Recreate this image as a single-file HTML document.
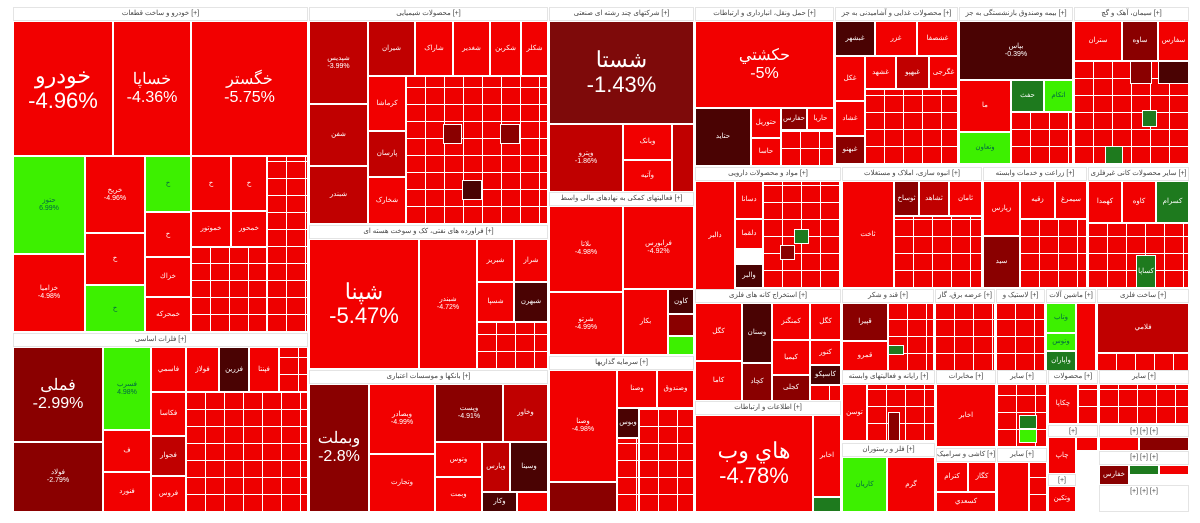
<!DOCTYPE html>
<html><head><meta charset="utf-8"><style>
body{margin:0;width:1200px;height:523px;background:#fff;position:relative;overflow:hidden;font-family:"Liberation Sans","Noto Sans CJK SC",sans-serif}
.t{position:absolute;box-sizing:border-box;border:1px solid #fff;color:#fff;display:flex;align-items:center;justify-content:center;text-align:center;font-size:7px;line-height:1.1;overflow:hidden;background:#f20000}
.h{position:absolute;box-sizing:border-box;background:#fff;color:#444;font-size:7px;text-align:center;border:1px solid #e4e4e4;line-height:11px;overflow:hidden;white-space:nowrap}
.g{position:absolute;box-sizing:border-box;border:1px solid #fff;background-color:#ee0000;
background-image:repeating-linear-gradient(90deg,transparent 0 18px,#fff 18px 19px),repeating-linear-gradient(0deg,transparent 0 16px,#fff 16px 17px)}
.d{background:#c00000}.k{background:#8a0000}.x{background:#4a0303}.gr{background:#3df000;color:#064}.dg{background:#1e7a1e}
.b{font-size:22px}.m{font-size:16px}
</style></head><body>
<!-- Group 1 -->
<div class="h" style="left:13px;top:7px;width:295px;height:14px">خودرو و ساخت قطعات [+]</div>
<div class="t b" style="left:13px;top:21px;width:100px;height:135px">خودرو<br>-4.96%</div>
<div class="t m" style="left:113px;top:21px;width:78px;height:135px">خساپا<br>-4.36%</div>
<div class="t m" style="left:191px;top:21px;width:117px;height:135px">خگستر<br>-5.75%</div>
<div class="t gr" style="left:13px;top:156px;width:72px;height:98px">حتوز<br>6.99%</div>
<div class="t" style="left:13px;top:254px;width:72px;height:78px">خزامیا<br>-4.98%</div>
<div class="t" style="left:85px;top:156px;width:60px;height:77px">خریخ<br>-4.96%</div>
<div class="t" style="left:85px;top:233px;width:60px;height:52px">خ</div>
<div class="t gr" style="left:85px;top:285px;width:60px;height:47px">خ</div>
<div class="t gr" style="left:145px;top:156px;width:46px;height:56px">خ</div>
<div class="t" style="left:145px;top:212px;width:46px;height:45px">خ</div>
<div class="t" style="left:145px;top:257px;width:46px;height:40px">خزاك</div>
<div class="t" style="left:145px;top:297px;width:46px;height:35px">خمحرکه</div>
<div class="t" style="left:191px;top:156px;width:40px;height:55px">خ</div>
<div class="t" style="left:231px;top:156px;width:36px;height:55px">خ</div>
<div class="t" style="left:191px;top:211px;width:40px;height:36px">خموتور</div>
<div class="t" style="left:231px;top:211px;width:36px;height:36px">خمحور</div>
<div class="g" style="left:267px;top:156px;width:41px;height:176px"></div>
<div class="g" style="left:191px;top:247px;width:76px;height:85px"></div>
<!-- Group 2 -->
<div class="h" style="left:13px;top:333px;width:295px;height:14px">فلزات اساسی [+]</div>
<div class="t m k" style="left:13px;top:347px;width:90px;height:95px">فملی<br>-2.99%</div>
<div class="t k" style="left:13px;top:442px;width:90px;height:70px">فولاد<br>-2.79%</div>
<div class="t gr" style="left:103px;top:347px;width:48px;height:83px">فسرب<br>4.98%</div>
<div class="t" style="left:103px;top:430px;width:48px;height:42px">ف</div>
<div class="t" style="left:103px;top:472px;width:48px;height:40px">فنورد</div>
<div class="t" style="left:151px;top:347px;width:35px;height:45px">فاسمي</div>
<div class="t" style="left:151px;top:392px;width:35px;height:44px">فكاسا</div>
<div class="t d" style="left:151px;top:436px;width:35px;height:40px">فجوار</div>
<div class="t" style="left:151px;top:476px;width:35px;height:36px">فروس</div>
<div class="t" style="left:186px;top:347px;width:33px;height:45px">فولاژ</div>
<div class="t x" style="left:219px;top:347px;width:30px;height:45px">فزرین</div>
<div class="t" style="left:249px;top:347px;width:30px;height:45px">فپنتا</div>
<div class="g" style="left:186px;top:392px;width:122px;height:120px"></div>
<div class="g" style="left:279px;top:347px;width:29px;height:45px"></div>
<!-- Group 3 -->
<div class="h" style="left:309px;top:7px;width:239px;height:14px">محصولات شیمیایی [+]</div>
<div class="t d" style="left:309px;top:21px;width:59px;height:83px">شپدیس<br>-3.99%</div>
<div class="t d" style="left:309px;top:104px;width:59px;height:62px">شفن</div>
<div class="t d" style="left:309px;top:166px;width:59px;height:58px">شبندر</div>
<div class="t d" style="left:368px;top:21px;width:47px;height:55px">شیران</div>
<div class="t" style="left:415px;top:21px;width:38px;height:55px">شاراک</div>
<div class="t" style="left:453px;top:21px;width:37px;height:55px">شغدير</div>
<div class="t" style="left:490px;top:21px;width:31px;height:55px">شکربن</div>
<div class="t" style="left:521px;top:21px;width:27px;height:55px">شکلر</div>
<div class="t" style="left:368px;top:76px;width:38px;height:55px">کرماشا</div>
<div class="t d" style="left:368px;top:131px;width:38px;height:46px">پارسان</div>
<div class="t" style="left:368px;top:177px;width:38px;height:47px">شخارک</div>
<div class="g" style="left:406px;top:76px;width:142px;height:148px"></div>
<div class="t k" style="left:443px;top:124px;width:19px;height:20px"></div>
<div class="t x" style="left:462px;top:180px;width:20px;height:20px"></div>
<div class="t k" style="left:500px;top:124px;width:20px;height:20px"></div>
<!-- Group 4 -->
<div class="h" style="left:309px;top:225px;width:239px;height:14px">فراورده های نفتی، کک و سوخت هسته ای [+]</div>
<div class="t b" style="left:309px;top:239px;width:110px;height:130px">شپنا<br>-5.47%</div>
<div class="t" style="left:419px;top:239px;width:58px;height:130px">شبندر<br>-4.72%</div>
<div class="t" style="left:477px;top:239px;width:37px;height:43px">شبريز</div>
<div class="t" style="left:514px;top:239px;width:34px;height:43px">شراز</div>
<div class="t" style="left:477px;top:282px;width:37px;height:40px">شسپا</div>
<div class="t x" style="left:514px;top:282px;width:34px;height:40px">شبهرن</div>
<div class="g" style="left:477px;top:322px;width:71px;height:47px"></div>
<!-- Group 5 -->
<div class="h" style="left:309px;top:370px;width:239px;height:14px">بانکها و موسسات اعتباری [+]</div>
<div class="t m k" style="left:309px;top:384px;width:60px;height:128px">وبملت<br>-2.8%</div>
<div class="t" style="left:369px;top:384px;width:66px;height:70px">وبصادر<br>-4.99%</div>
<div class="t" style="left:369px;top:454px;width:66px;height:58px">وتجارت</div>
<div class="t k" style="left:435px;top:384px;width:68px;height:58px">وپست<br>-4.91%</div>
<div class="t d" style="left:503px;top:384px;width:45px;height:58px">وخاور</div>
<div class="t" style="left:435px;top:442px;width:47px;height:35px">وتوس</div>
<div class="t" style="left:435px;top:477px;width:47px;height:35px">وبمت</div>
<div class="t d" style="left:482px;top:442px;width:28px;height:50px">وپارس</div>
<div class="t x" style="left:510px;top:442px;width:38px;height:50px">وسينا</div>
<div class="t x" style="left:482px;top:492px;width:35px;height:20px">وکار</div>
<div class="t" style="left:517px;top:492px;width:31px;height:20px"></div>
<!-- Group 6 -->
<div class="h" style="left:549px;top:7px;width:145px;height:14px">شرکتهای چند رشته ای صنعتی [+]</div>
<div class="t b" style="left:549px;top:21px;width:145px;height:103px;background:#7e0a0a">شستا<br>-1.43%</div>
<div class="t d" style="left:549px;top:124px;width:74px;height:68px">وپترو<br>-1.86%</div>
<div class="t" style="left:623px;top:124px;width:49px;height:36px">وبانک</div>
<div class="t" style="left:623px;top:160px;width:49px;height:32px">وآتيه</div>
<div class="t d" style="left:672px;top:124px;width:22px;height:68px"></div>
<div class="h" style="left:549px;top:192px;width:145px;height:14px">فعالیتهای کمکی به نهادهای مالی واسط [+]</div>
<div class="t" style="left:549px;top:206px;width:74px;height:86px">ىلاتا<br>-4.98%</div>
<div class="t" style="left:623px;top:206px;width:71px;height:83px">فرابورس<br>-4.92%</div>
<div class="t" style="left:549px;top:292px;width:74px;height:63px">شرتو<br>-4.99%</div>
<div class="t" style="left:623px;top:289px;width:45px;height:66px">بکار</div>
<div class="t x" style="left:668px;top:289px;width:26px;height:25px">کاون</div>
<div class="t k" style="left:668px;top:314px;width:26px;height:22px"></div>
<div class="t gr" style="left:668px;top:336px;width:26px;height:19px"></div>
<div class="h" style="left:549px;top:356px;width:145px;height:14px">سرمایه گذاریها [+]</div>
<div class="t" style="left:549px;top:370px;width:68px;height:112px">وصنا<br>-4.98%</div>
<div class="t k" style="left:549px;top:482px;width:68px;height:30px"></div>
<div class="t" style="left:617px;top:370px;width:40px;height:38px">وصنا</div>
<div class="t" style="left:657px;top:370px;width:37px;height:38px">وصندوق</div>
<div class="t x" style="left:617px;top:408px;width:22px;height:30px">وبوس</div>
<div class="g" style="left:639px;top:408px;width:55px;height:104px"></div>
<div class="g" style="left:617px;top:438px;width:22px;height:74px"></div>
<!-- Group 9 -->
<div class="h" style="left:695px;top:7px;width:139px;height:14px">حمل ونقل، انبارداری و ارتباطات [+]</div>
<div class="t m" style="left:695px;top:21px;width:139px;height:87px">حکشتي<br>-5%</div>
<div class="t x" style="left:695px;top:108px;width:56px;height:58px">حتايد</div>
<div class="t" style="left:751px;top:108px;width:30px;height:30px">حتوريل</div>
<div class="t k" style="left:781px;top:108px;width:26px;height:22px">حفارس</div>
<div class="t" style="left:807px;top:108px;width:27px;height:22px">حاريا</div>
<div class="t" style="left:751px;top:138px;width:30px;height:28px">حاسا</div>
<div class="g" style="left:781px;top:130px;width:53px;height:36px"></div>
<!-- Group 10 -->
<div class="h" style="left:695px;top:167px;width:146px;height:14px">مواد و محصولات دارویی [+]</div>
<div class="t" style="left:695px;top:181px;width:40px;height:110px">دالبر</div>
<div class="t" style="left:735px;top:181px;width:28px;height:38px">دسانا</div>
<div class="t" style="left:735px;top:219px;width:28px;height:30px">دلقما</div>
<div class="t x" style="left:735px;top:264px;width:28px;height:24px">والبر</div>
<div class="g" style="left:763px;top:181px;width:78px;height:107px"></div>
<div class="t dg" style="left:794px;top:229px;width:15px;height:15px"></div>
<div class="t k" style="left:780px;top:245px;width:15px;height:15px"></div>
<!-- Group 11 -->
<div class="h" style="left:695px;top:289px;width:146px;height:14px">استخراج کانه های فلزی [+]</div>
<div class="t" style="left:695px;top:303px;width:47px;height:58px">کگل</div>
<div class="t" style="left:695px;top:361px;width:47px;height:40px">کاما</div>
<div class="t x" style="left:742px;top:303px;width:30px;height:60px">وسنان</div>
<div class="t k" style="left:742px;top:363px;width:30px;height:38px">کچاد</div>
<div class="t" style="left:772px;top:303px;width:38px;height:37px">کمنگنز</div>
<div class="t" style="left:810px;top:303px;width:31px;height:37px">کگل</div>
<div class="t" style="left:772px;top:340px;width:38px;height:35px">کیمیا</div>
<div class="t k" style="left:772px;top:375px;width:38px;height:26px">کجلی</div>
<div class="t" style="left:810px;top:340px;width:31px;height:25px">کنور</div>
<div class="t x" style="left:810px;top:365px;width:31px;height:20px">کاسپکو</div>
<div class="g" style="left:810px;top:385px;width:31px;height:16px"></div>
<!-- Group 12 -->
<div class="h" style="left:695px;top:401px;width:146px;height:14px">اطلاعات و ارتباطات [+]</div>
<div class="t b" style="left:695px;top:415px;width:118px;height:97px">هاي وب<br>-4.78%</div>
<div class="t" style="left:813px;top:415px;width:28px;height:82px">اخابر</div>
<div class="t dg" style="left:813px;top:497px;width:28px;height:15px"></div>
<!-- Group 13 -->
<div class="h" style="left:835px;top:7px;width:123px;height:14px">محصولات غذایی و آشامیدنی به جز [+]</div>
<div class="t x" style="left:835px;top:21px;width:40px;height:35px">غبشهر</div>
<div class="t" style="left:875px;top:21px;width:42px;height:35px">غزر</div>
<div class="t" style="left:917px;top:21px;width:41px;height:35px">غشصفا</div>
<div class="t" style="left:835px;top:56px;width:30px;height:45px">غکل</div>
<div class="t" style="left:835px;top:101px;width:30px;height:35px">غشاد</div>
<div class="t k" style="left:835px;top:136px;width:30px;height:28px">غبهنو</div>
<div class="t" style="left:865px;top:56px;width:31px;height:33px">غشهد</div>
<div class="t d" style="left:896px;top:56px;width:33px;height:33px">غبهپو</div>
<div class="t" style="left:929px;top:56px;width:29px;height:33px">غگرجی</div>
<div class="g" style="left:865px;top:89px;width:93px;height:75px"></div>
<!-- Group 14 -->
<div class="h" style="left:959px;top:7px;width:114px;height:14px">بیمه وصندوق بازنشستگی به جز [+]</div>
<div class="t x" style="left:959px;top:21px;width:114px;height:59px">بپاس<br>-0.39%</div>
<div class="t" style="left:959px;top:80px;width:52px;height:52px">ما</div>
<div class="t gr" style="left:959px;top:132px;width:52px;height:32px">وتعاون</div>
<div class="t dg" style="left:1011px;top:80px;width:33px;height:32px">حفث</div>
<div class="t gr" style="left:1044px;top:80px;width:29px;height:32px">اتکام</div>
<div class="g" style="left:1011px;top:112px;width:62px;height:52px"></div>
<!-- Group 15 -->
<div class="h" style="left:1074px;top:7px;width:115px;height:14px">سیمان، آهک و گچ [+]</div>
<div class="t" style="left:1074px;top:21px;width:48px;height:40px">ستران</div>
<div class="t k" style="left:1122px;top:21px;width:36px;height:40px">ساوه</div>
<div class="t" style="left:1158px;top:21px;width:31px;height:40px">سفارس</div>
<div class="g" style="left:1074px;top:61px;width:115px;height:103px"></div>
<div class="t k" style="left:1130px;top:61px;width:22px;height:23px"></div>
<div class="t x" style="left:1158px;top:61px;width:31px;height:23px"></div>
<div class="t dg" style="left:1142px;top:110px;width:15px;height:17px"></div>
<div class="t dg" style="left:1105px;top:146px;width:18px;height:18px"></div>
<!-- Row 2 right -->
<div class="h" style="left:842px;top:167px;width:140px;height:14px">انبوه سازی، املاک و مستغلات [+]</div>
<div class="t" style="left:842px;top:181px;width:52px;height:107px">ثاخت</div>
<div class="t k" style="left:894px;top:181px;width:25px;height:35px">ثوساخ</div>
<div class="g" style="left:894px;top:216px;width:88px;height:72px"></div>
<div class="t d" style="left:919px;top:181px;width:30px;height:35px">ثشاهد</div>
<div class="t" style="left:949px;top:181px;width:33px;height:35px">ثامان</div>
<div class="h" style="left:983px;top:167px;width:104px;height:14px">زراعت و خدمات وابسته [+]</div>
<div class="t" style="left:983px;top:181px;width:37px;height:55px">زپارس</div>
<div class="t k" style="left:983px;top:236px;width:37px;height:52px">سيد</div>
<div class="t" style="left:1020px;top:181px;width:35px;height:38px">زقيه</div>
<div class="t" style="left:1055px;top:181px;width:32px;height:38px">سيمرغ</div>
<div class="g" style="left:1020px;top:219px;width:67px;height:69px"></div>
<div class="h" style="left:1088px;top:167px;width:101px;height:14px">سایر محصولات کانی غیرفلزی [+]</div>
<div class="t" style="left:1088px;top:181px;width:34px;height:42px">كهمدا</div>
<div class="t" style="left:1122px;top:181px;width:34px;height:42px">کاوه</div>
<div class="t dg" style="left:1156px;top:181px;width:33px;height:42px">کسرام</div>
<div class="g" style="left:1088px;top:223px;width:101px;height:65px"></div>
<div class="t dg" style="left:1136px;top:255px;width:20px;height:33px">كساپا</div>
<!-- Row 3 right -->
<div class="h" style="left:842px;top:289px;width:92px;height:14px">قند و شکر [+]</div>
<div class="t k" style="left:842px;top:303px;width:46px;height:38px">قپيرا</div>
<div class="t" style="left:842px;top:341px;width:46px;height:30px">قمرو</div>
<div class="g" style="left:888px;top:303px;width:46px;height:68px"></div>
<div class="t dg" style="left:888px;top:345px;width:16px;height:10px"></div>
<div class="h" style="left:935px;top:289px;width:60px;height:14px">عرضه برق، گاز [+]</div>
<div class="g" style="left:935px;top:303px;width:60px;height:68px"></div>
<div class="h" style="left:996px;top:289px;width:49px;height:14px">لاستیک و [+]</div>
<div class="g" style="left:996px;top:303px;width:49px;height:68px"></div>
<div class="h" style="left:1046px;top:289px;width:50px;height:14px">ماشین آلات [+]</div>
<div class="t gr" style="left:1046px;top:303px;width:30px;height:30px">وتاب</div>
<div class="t gr" style="left:1046px;top:333px;width:30px;height:18px">وتوس</div>
<div class="t dg" style="left:1046px;top:351px;width:30px;height:20px">واپاران</div>
<div class="t" style="left:1076px;top:303px;width:20px;height:68px"></div>
<div class="h" style="left:1097px;top:289px;width:92px;height:14px">ساخت فلزی [+]</div>
<div class="t d" style="left:1097px;top:303px;width:92px;height:50px">فلامي</div>
<div class="g" style="left:1097px;top:353px;width:92px;height:18px"></div>
<!-- Row 4 right -->
<div class="h" style="left:842px;top:370px;width:93px;height:14px">رایانه و فعالیتهای وابسته [+]</div>
<div class="t" style="left:842px;top:384px;width:25px;height:57px">توسن</div>
<div class="g" style="left:867px;top:384px;width:68px;height:57px"></div>
<div class="t k" style="left:888px;top:412px;width:12px;height:29px"></div>
<div class="h" style="left:936px;top:370px;width:60px;height:14px">مخابرات [+]</div>
<div class="t" style="left:936px;top:384px;width:60px;height:63px">اخابر</div>
<div class="h" style="left:997px;top:370px;width:50px;height:14px">سایر [+]</div>
<div class="g" style="left:997px;top:384px;width:50px;height:63px"></div>
<div class="t dg" style="left:1019px;top:415px;width:18px;height:14px"></div>
<div class="t gr" style="left:1019px;top:429px;width:18px;height:14px"></div>
<div class="h" style="left:1048px;top:370px;width:50px;height:14px">محصولات [+]</div>
<div class="t" style="left:1048px;top:384px;width:30px;height:40px">چکاپا</div>
<div class="g" style="left:1078px;top:384px;width:20px;height:40px"></div>
<div class="h" style="left:1099px;top:370px;width:90px;height:14px">سایر [+]</div>
<div class="g" style="left:1099px;top:384px;width:90px;height:40px"></div>
<div class="h" style="left:842px;top:443px;width:93px;height:14px">فلز و رستوران [+]</div>
<div class="t gr" style="left:842px;top:457px;width:45px;height:55px">کاریان</div>
<div class="t" style="left:887px;top:457px;width:48px;height:55px">گرم</div>
<div class="h" style="left:936px;top:448px;width:60px;height:14px">کاشی و سرامیک [+]</div>
<div class="t" style="left:936px;top:462px;width:32px;height:30px">کترام</div>
<div class="t" style="left:968px;top:462px;width:28px;height:30px">كگاز</div>
<div class="t" style="left:936px;top:492px;width:60px;height:20px">کسعدي</div>
<div class="h" style="left:997px;top:448px;width:50px;height:14px">سایر [+]</div>
<div class="t" style="left:997px;top:462px;width:32px;height:50px"></div>
<div class="g" style="left:1029px;top:462px;width:18px;height:50px"></div>
<div class="h" style="left:1048px;top:425px;width:50px;height:12px">[+]</div>
<div class="t" style="left:1048px;top:437px;width:28px;height:37px">چاپ</div>
<div class="h" style="left:1048px;top:474px;width:28px;height:12px">[+]</div>
<div class="t" style="left:1048px;top:486px;width:28px;height:26px">وتكين</div>
<div class="h" style="left:1099px;top:425px;width:90px;height:12px">[+] [+] [+]</div>
<div class="t" style="left:1076px;top:437px;width:22px;height:14px"></div>
<div class="t" style="left:1099px;top:437px;width:40px;height:14px"></div>
<div class="t k" style="left:1139px;top:437px;width:50px;height:14px"></div>
<div class="h" style="left:1099px;top:451px;width:90px;height:14px">[+] [+] [+]</div>
<div class="t k" style="left:1099px;top:465px;width:30px;height:20px">خفارس</div>
<div class="t dg" style="left:1129px;top:465px;width:30px;height:10px"></div>
<div class="t" style="left:1159px;top:465px;width:30px;height:10px"></div>
<div class="h" style="left:1099px;top:485px;width:90px;height:27px">[+] [+] [+]</div>
</body></html>
